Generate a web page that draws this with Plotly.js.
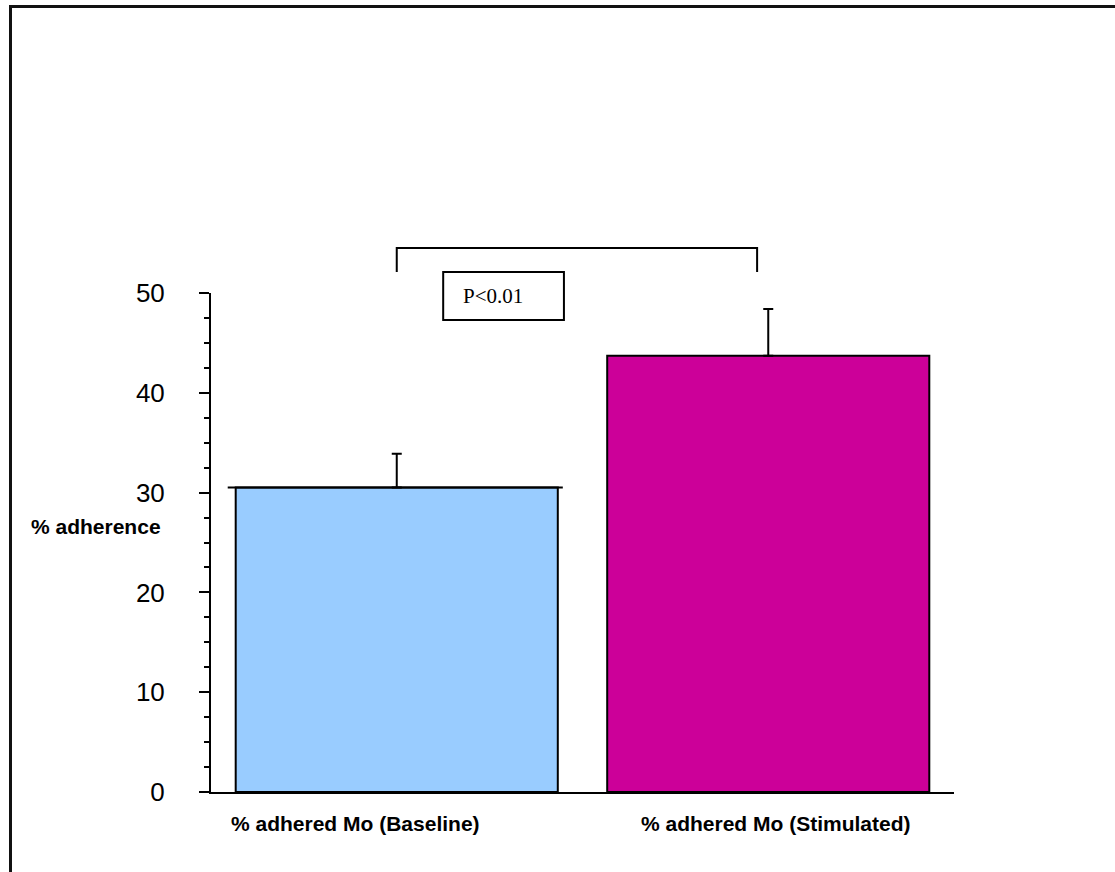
<!DOCTYPE html>
<html>
<head>
<meta charset="utf-8">
<script src="https://cdn.plot.ly/plotly-3.0.1.min.js"></script>
<style>
  html, body { margin: 0; padding: 0; background: #fff; }
  #wrap { position: relative; width: 1115px; height: 872px; overflow: hidden; }
  #chart { width: 1115px; height: 872px; }
  #frame {
    position: absolute; left: 9px; top: 5px; width: 1200px; height: 1000px;
    border-left: 3px solid #111; border-top: 3px solid #111;
    pointer-events: none;
  }
</style>
</head>
<body>
<div id="wrap">
  <div id="chart"></div>
  <div id="frame"></div>
</div>
<script>
// Monocyte adherence, baseline vs stimulated (mean + SD)
const categories = ['% adhered Mo (Baseline)', '% adhered Mo (Stimulated)'];
const meanAdherence = [30.5, 43.7];
const sdAdherence = [3.4, 4.7];
const barColors = ['#99CCFF', '#CC0099'];
const yTickVals = [0, 10, 20, 30, 40, 50];
const yTitle = '% adherence';
const pLabel = 'P&lt;0.01';

const bars = {
  type: 'bar',
  x: categories,
  y: meanAdherence,
  width: 0.867,
  marker: { color: barColors, line: { color: '#000', width: 2 } },
  error_y: {
    type: 'data', symmetric: false,
    array: sdAdherence, arrayminus: sdAdherence.map(() => 0),
    color: '#000', thickness: 2, width: 5
  },
  hoverinfo: 'none',
  showlegend: false
};

// paper-y of a data value on the [0, 50] axis
const py = v => v / 50;

const layout = {
  width: 1115, height: 872,
  margin: { l: 211, r: 161, t: 293, b: 80 },
  paper_bgcolor: '#fff', plot_bgcolor: '#fff',
  font: { family: 'Liberation Sans, Arial, sans-serif', color: '#000' },
  bargap: 0,
  xaxis: {
    type: 'category', range: [-0.5, 1.5],
    showticklabels: false, ticks: '',
    showline: true, linecolor: '#000', linewidth: 2,
    showgrid: false, zeroline: false, fixedrange: true
  },
  yaxis: {
    range: [0, 50], tickvals: yTickVals,
    ticks: 'outside', ticklen: 10, tickwidth: 2, tickcolor: '#000',
    minor: { dtick: 2.5, ticks: 'outside', ticklen: 5, tickwidth: 2, tickcolor: '#000', showgrid: false },
    tickfont: { size: 26, color: '#000' },
    ticklabelstandoff: 29,
    showline: true, linecolor: '#000', linewidth: 2,
    showgrid: false, zeroline: false, fixedrange: true
  },
  shapes: [
    // comparison bracket between the two groups
    { type: 'path', xref: 'x', yref: 'paper',
      path: `M 0 ${py(52.1)} L 0 ${py(54.5)} L 0.97 ${py(54.5)} L 0.97 ${py(52.1)}`,
      line: { color: '#000', width: 2 } },
    // box around the significance label
    { type: 'rect', xref: 'x', yref: 'paper',
      x0: 0.125, x1: 0.45, y0: py(47.3), y1: py(52.1),
      line: { color: '#000', width: 2 }, fillcolor: '#fff' },
    // extended top edge of the baseline bar
    { type: 'line', xref: 'x', yref: 'y',
      x0: -0.455, x1: 0.447, y0: meanAdherence[0], y1: meanAdherence[0],
      line: { color: '#000', width: 2 } }
  ],
  annotations: [
    { xref: 'x', yref: 'paper', x: 0.26, y: py(49.7), yanchor: 'middle', text: pLabel, showarrow: false,
      font: { family: 'Liberation Serif, Times New Roman, serif', size: 21, color: '#000' } },
    { xref: 'paper', yref: 'paper', x: -0.0646, y: 0.533, xanchor: 'right', yanchor: 'middle',
      text: '<b>' + yTitle + '</b>', showarrow: false, font: { size: 21, color: '#000' } },
    { xref: 'x', yref: 'paper', x: categories[0], xshift: -41, y: -0.064, yanchor: 'middle',
      text: '<b>' + categories[0] + '</b>', showarrow: false, font: { size: 21, color: '#000' } },
    { xref: 'x', yref: 'paper', x: categories[1], xshift: 8, y: -0.064, yanchor: 'middle',
      text: '<b>' + categories[1] + '</b>', showarrow: false, font: { size: 21, color: '#000' } }
  ]
};

Plotly.newPlot('chart', [bars], layout, { displayModeBar: false, staticPlot: true });
</script>
</body>
</html>
